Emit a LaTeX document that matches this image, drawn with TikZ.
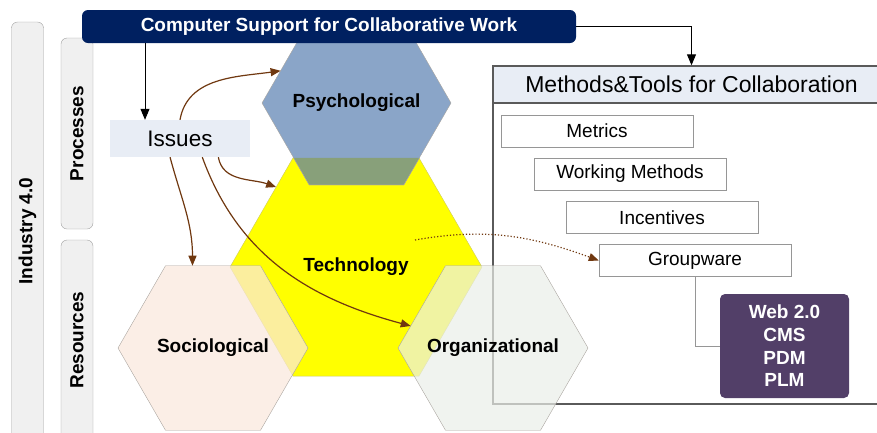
\documentclass[tikz,border=0pt]{standalone}
\usepackage{fontspec}
\setmainfont{Liberation Sans}
\usetikzlibrary{arrows.meta,shapes.geometric}

\definecolor{cscwblue}{RGB}{0,32,96}
\definecolor{barfill}{RGB}{240,240,240}
\definecolor{barline}{RGB}{160,160,160}
\definecolor{issuefill}{RGB}{232,237,245}
\definecolor{techyellow}{RGB}{255,255,0}
\definecolor{psyblue}{RGB}{138,165,200}
\definecolor{psygreen}{RGB}{136,160,122}
\definecolor{socfill}{RGB}{250,232,220}
\definecolor{orgfill}{RGB}{234,238,232}
\definecolor{hexline}{RGB}{170,165,160}
\definecolor{boxline}{RGB}{90,90,90}
\definecolor{toolline}{RGB}{150,150,150}
\definecolor{webpurple}{RGB}{82,63,104}
\definecolor{issuebrown}{RGB}{112,56,16}

\newcommand{\hexlabel}[1]{\makebox[0pt]{#1}}

\begin{document}
\begin{tikzpicture}[x=1pt,y=-1pt,
  lbl/.style={font=\fontsize{19}{23}\selectfont\bfseries},
  bar/.style={draw=barline,fill=barfill,rounded corners=6pt,rotate=90,minimum height=32pt,inner sep=0pt,lbl},
  hexa/.style={regular polygon,regular polygon sides=6,inner sep=0pt,outer sep=0pt,lbl},
  toolbox/.style={draw=toolline,fill=white,minimum width=192pt,minimum height=32pt,inner sep=0pt,font=\fontsize{19}{23}\selectfont},
  issuearrow/.style={draw=issuebrown,line width=1.2pt,-{Triangle[length=10pt,width=8pt]}},
  mainarrow/.style={draw=black,line width=1pt,-{Triangle[length=11pt,width=9pt]}}]
\useasboundingbox (0,0) rectangle (877,432);

\node[bar,minimum width=418pt] at (27.5,231) (industry) {Industry 4.0};
\node[bar,minimum width=191pt] at (77,133.5) (processes) {Processes};
\node[bar,minimum width=200pt] at (77,340) (resources) {Resources};

\node[fill=issuefill,minimum width=140pt,minimum height=37pt,inner sep=0pt,font=\fontsize{22.5}{26}\selectfont] at (180,138.5) (issues) {Issues};

\node[draw=boxline,line width=1.4pt,minimum width=397pt,minimum height=338pt] at (691.5,235) (methframe) {};
\node[draw=boxline,line width=1.4pt,fill=issuefill,minimum width=397pt,minimum height=37pt,inner sep=0pt,font=\fontsize{23}{27}\selectfont] at (691.5,84.5) (methhead) {Methods\&Tools for Collaboration};
\node[toolbox] at (597,131) (metrics) {Metrics};
\node[toolbox] at (630,174) (working) {Working Methods};
\node[toolbox] at (662,217.5) (incent) {Incentives};
\node[toolbox] at (695,260.5) (grp) {Groupware};
\node[fill=webpurple,rounded corners=5pt,minimum width=129pt,minimum height=104pt,align=center,text=white,lbl,font=\fontsize{19}{22.7}\selectfont\bfseries] at (784.5,346) (web) {Web 2.0\\CMS\\PDM\\PLM};
\draw[toolline,line width=0.8pt] (grp.south) |- (web.west);

\node[hexa,fill=techyellow,draw=hexline!60!techyellow,minimum size=252pt] at (356,267) (tech) {\hexlabel{Technology}};
\node[hexa,fill=psyblue,draw=hexline,minimum size=189pt] at (356.5,103) (psy) {\hexlabel{Psychological}};
\begin{scope}
\clip (tech.corner 1) -- (tech.corner 2) -- (tech.corner 3) -- (tech.corner 4) -- (tech.corner 5) -- (tech.corner 6) -- cycle;
\filldraw[fill=psygreen,draw=hexline] (psy.corner 1) -- (psy.corner 2) -- (psy.corner 3) -- (psy.corner 4) -- (psy.corner 5) -- (psy.corner 6) -- cycle;
\end{scope}
\node[hexa,fill=socfill,fill opacity=0.72,text opacity=1,draw=hexline,minimum size=190pt] at (213,348) (soc) {\hexlabel{Sociological}};
\node[hexa,fill=orgfill,fill opacity=0.7,text opacity=1,draw=hexline,minimum size=190pt] at (493,348) (org) {\hexlabel{Organizational}};

\node[fill=cscwblue,rounded corners=6pt,minimum width=494pt,minimum height=33pt,inner sep=0pt,text=white,lbl] at (329,26.5) (cscw) {Computer Support for Collaborative Work};
\coordinate (cscwout) at (145,43);
\draw[mainarrow] (cscwout) -- (cscwout |- issues.north);
\draw[mainarrow] (cscw.east) -| (methhead.north);

\draw[issuearrow] (issues.north) to[out=80,in=188] (psy.157);
\draw[issuearrow] (issues.-26) to[out=-80,in=160] (tech.135);
\draw[issuearrow] (issues.-118) to[out=-75,in=90] (soc.104);
\draw[issuearrow] (issues.-40) to[out=-70,in=165] (org.165);
\coordinate (techout) at (415,240);
\draw[issuearrow,dotted] (techout) to[out=10,in=160] (grp.west);
\end{tikzpicture}
\end{document}
